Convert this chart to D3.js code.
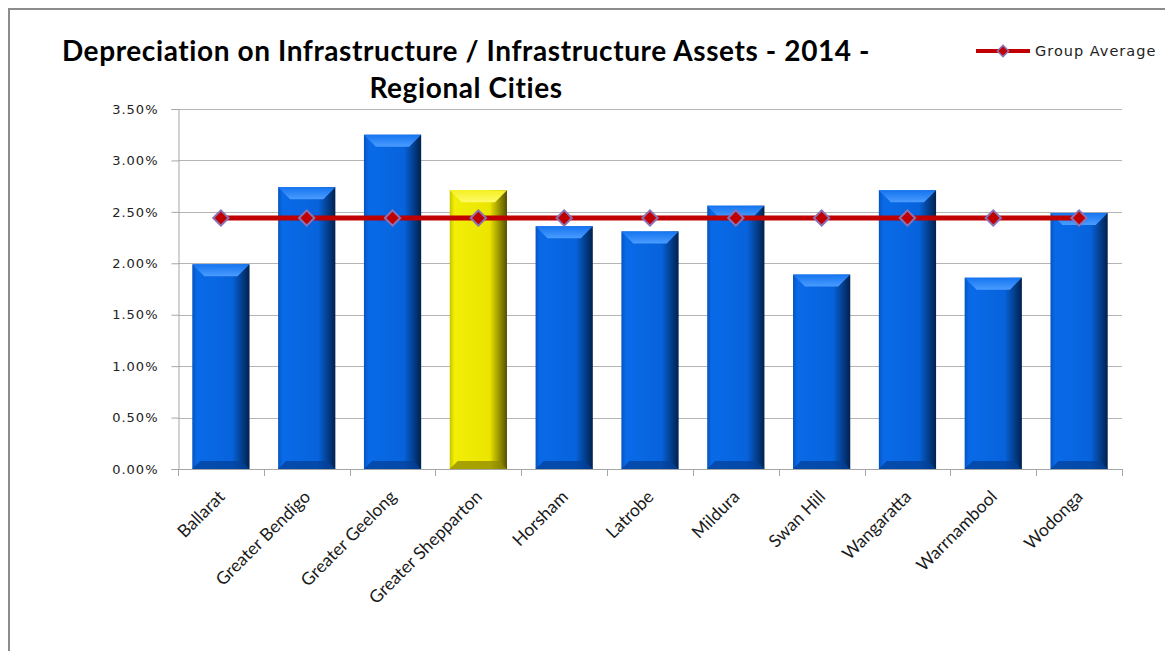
<!DOCTYPE html>
<html>
<head>
<meta charset="utf-8">
<script src="https://cdn.jsdelivr.net/npm/d3@7"></script>
<style>
  body { margin: 0; background: #fff; }
  svg { display: block; }
</style>
</head>
<body>
<script>
// chart data
var cities = ["Ballarat", "Greater Bendigo", "Greater Geelong", "Greater Shepparton", "Horsham",
              "Latrobe", "Mildura", "Swan Hill", "Wangaratta", "Warrnambool", "Wodonga"];
var depreciation = [0.0199, 0.0274, 0.0325, 0.0271, 0.0236, 0.0231, 0.0256, 0.0189, 0.0271, 0.0186, 0.0249];
var groupAverage = 0.0244;
var highlight = "Greater Shepparton";
var yTicks = [0, 0.005, 0.01, 0.015, 0.02, 0.025, 0.03, 0.035];
var titleLines = ["Depreciation on Infrastructure / Infrastructure Assets - 2014 -", "Regional Cities"];
var legendLabel = "Group Average";

var w = 1165, h = 651;
var margin = {top: 109, right: 43, bottom: 182, left: 178};

var svg = d3.select("body").append("svg")
    .attr("width", w)
    .attr("height", h);

// gradients for the bevelled bars
var defs = svg.append("defs");
function sideGrad(id, c0, c1, c2, c3) {
  var g = defs.append("linearGradient").attr("id", id)
      .attr("x1", 0).attr("x2", 1).attr("y1", 0).attr("y2", 0);
  g.append("stop").attr("offset", "0%").attr("stop-color", c0);
  g.append("stop").attr("offset", "8%").attr("stop-color", c1);
  g.append("stop").attr("offset", "70%").attr("stop-color", c2);
  g.append("stop").attr("offset", "100%").attr("stop-color", c3);
}
sideGrad("blueSide", "#0654c0", "#096ae8", "#0763dc", "#01214e");
sideGrad("yellowSide", "#c8c400", "#f2ee06", "#ebe500", "#555000");
function topGrad(id, c0, c1) {
  var g = defs.append("linearGradient").attr("id", id)
      .attr("x1", 0).attr("x2", 0).attr("y1", 0).attr("y2", 1);
  g.append("stop").attr("offset", "0%").attr("stop-color", c0);
  g.append("stop").attr("offset", "100%").attr("stop-color", c1);
}
topGrad("blueTop", "#1574f0", "#4a9cff");
topGrad("yellowTop", "#f4f020", "#fffb6a");

// outer frame (chart is cropped at right and bottom)
svg.append("rect")
    .attr("x", 9).attr("y", 9)
    .attr("width", w + 20).attr("height", h + 20)
    .attr("fill", "none")
    .attr("stroke", "#8c8c8c")
    .attr("stroke-width", 2);

var x = d3.scaleBand()
    .domain(cities)
    .range([margin.left, w - margin.right])
    .paddingInner(0.333)
    .paddingOuter(0.1665);

var y = d3.scaleLinear()
    .domain([0, 0.035])
    .range([h - margin.bottom, margin.top]);

// gridlines
svg.append("g")
    .selectAll("line")
    .data(yTicks.slice(1))
    .enter().append("line")
    .attr("x1", margin.left).attr("x2", w - margin.right)
    .attr("y1", function(d) { return Math.round(y(d)) + 0.5; })
    .attr("y2", function(d) { return Math.round(y(d)) + 0.5; })
    .attr("stroke", "#b4b4b4")
    .attr("stroke-width", 1);

// y axis
var yAxis = d3.axisLeft(y)
    .tickValues(yTicks)
    .tickFormat(d3.format(".2%"))
    .tickSize(7)
    .tickPadding(13);
var gy = svg.append("g")
    .attr("transform", "translate(" + (margin.left + 0.5) + ",0)")
    .call(yAxis);
gy.select(".domain").attr("stroke", "#a6a6a6");
gy.selectAll(".tick line").attr("stroke", "#a6a6a6");
gy.selectAll(".tick text")
    .attr("fill", "#222")
    .style("font-family", "DejaVu Sans, sans-serif")
    .style("font-size", "13px")
    .style("letter-spacing", "1px");

// x axis
var xEdges = d3.scaleLinear().domain([0, cities.length]).range([margin.left, w - margin.right]);
var gx = svg.append("g");
gx.append("line")
    .attr("x1", margin.left).attr("x2", w - margin.right)
    .attr("y1", y(0) + 0.5).attr("y2", y(0) + 0.5)
    .attr("stroke", "#a6a6a6");
gx.selectAll(".xt")
    .data(d3.range(cities.length + 1))
    .enter().append("line")
    .attr("class", "xt")
    .attr("x1", function(d) { return Math.round(xEdges(d)) + 0.5; })
    .attr("x2", function(d) { return Math.round(xEdges(d)) + 0.5; })
    .attr("y1", y(0)).attr("y2", y(0) + 7)
    .attr("stroke", "#a6a6a6");

gx.selectAll(".xl")
    .data(cities)
    .enter().append("text")
    .attr("class", "xl")
    .attr("transform", function(d) {
      return "translate(" + (x(d) + x.bandwidth() / 2 - 4) + "," + (y(0) + 20) + ") rotate(-45)";
    })
    .attr("dy", "0.72em")
    .attr("text-anchor", "end")
    .attr("fill", "#1a1a1a")
    .style("font-family", "Lato, sans-serif")
    .style("font-size", "17.5px")
    .text(function(d) { return d; });

// bars
var bars = svg.append("g")
    .selectAll("g")
    .data(cities)
    .enter().append("g");

var bevel = 12;
bars.append("rect")
    .attr("x", function(d) { return x(d); })
    .attr("y", function(d, i) { return y(depreciation[i]); })
    .attr("width", x.bandwidth())
    .attr("height", function(d, i) { return y(0) - y(depreciation[i]); })
    .attr("fill", function(d) { return d == highlight ? "url(#yellowSide)" : "url(#blueSide)"; });

// top bevel
bars.append("path")
    .attr("d", function(d, i) {
      var x0 = x(d), x1 = x(d) + x.bandwidth(), t = y(depreciation[i]);
      return "M" + x0 + "," + t + "L" + x1 + "," + t +
             "L" + (x1 - bevel) + "," + (t + bevel) + "L" + (x0 + bevel) + "," + (t + bevel) + "Z";
    })
    .attr("fill", function(d) { return d == highlight ? "url(#yellowTop)" : "url(#blueTop)"; });

// bottom bevel (darker)
bars.append("path")
    .attr("d", function(d) {
      var x0 = x(d), x1 = x(d) + x.bandwidth(), b = y(0), bb = 8;
      return "M" + x0 + "," + b + "L" + x1 + "," + b +
             "L" + (x1 - bb) + "," + (b - bb) + "L" + (x0 + bb) + "," + (b - bb) + "Z";
    })
    .attr("fill", function(d) { return d == highlight ? "#8f8900" : "#03419a"; })
    .attr("opacity", 0.75);

// group average line
var line = d3.line()
    .x(function(d) { return x(d) + x.bandwidth() / 2; })
    .y(function() { return y(groupAverage); });

svg.append("path")
    .datum(cities)
    .attr("d", line)
    .attr("fill", "none")
    .attr("stroke", "#c00000")
    .attr("stroke-width", 5);

var diamond = d3.symbol().type(d3.symbolDiamond2).size(150);
svg.append("g")
    .selectAll("path")
    .data(cities)
    .enter().append("path")
    .attr("d", diamond)
    .attr("transform", function(d) {
      return "translate(" + (x(d) + x.bandwidth() / 2) + "," + y(groupAverage) + ")";
    })
    .attr("fill", "#c00000")
    .attr("stroke", "#8a72b4")
    .attr("stroke-width", 2);

// legend
var lg = svg.append("g").attr("transform", "translate(976,51)");
lg.append("line")
    .attr("x1", 0).attr("x2", 54)
    .attr("stroke", "#c00000")
    .attr("stroke-width", 4);
lg.append("path")
    .attr("d", d3.symbol().type(d3.symbolDiamond2).size(80))
    .attr("transform", "translate(27,0)")
    .attr("fill", "#c00000")
    .attr("stroke", "#8a72b4")
    .attr("stroke-width", 1.5);
lg.append("text")
    .attr("x", 59).attr("y", 5)
    .attr("fill", "#222")
    .style("font-family", "DejaVu Sans, sans-serif")
    .style("font-size", "14.5px")
    .style("letter-spacing", "1px")
    .text(legendLabel);

// title
svg.append("g")
    .selectAll("text")
    .data(titleLines)
    .enter().append("text")
    .attr("x", 466)
    .attr("y", function(d, i) { return 61 + i * 37; })
    .attr("text-anchor", "middle")
    .attr("fill", "#000")
    .style("font-family", "Lato, sans-serif")
    .style("font-weight", "bold")
    .style("font-size", "28px")
    .style("letter-spacing", "0.6px")
    .text(function(d) { return d; });
</script>
</body>
</html>
